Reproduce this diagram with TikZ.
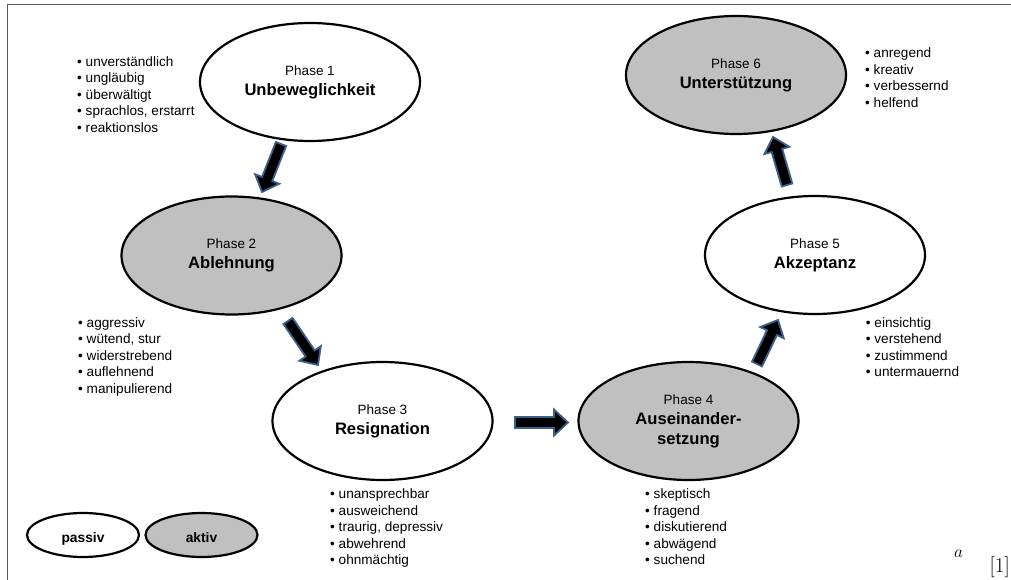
\documentclass[tikz,border=0pt]{standalone}
\usepackage{fontspec}
\newfontfamily\arial{Liberation Sans}
\usetikzlibrary{shapes.geometric,calc}

\definecolor{phasegray}{RGB}{192,192,192}
\definecolor{arrowblue}{RGB}{60,96,140}
\definecolor{framegray}{RGB}{90,90,90}

\tikzset{
  phase/.style={ellipse, draw=black, line width=2.2pt, minimum width=220pt,
    minimum height=118pt, inner sep=0pt, align=center,
    font=\arial\fontsize{16.6}{20}\selectfont\bfseries},
  passive/.style={phase, fill=white},
  active/.style={phase, fill=phasegray},
  legendbox/.style={ellipse, draw=black, line width=2.2pt, minimum width=112pt,
    minimum height=44pt, inner sep=0pt, text height=18pt, text depth=3pt,
    font=\arial\fontsize{13.8}{16}\selectfont\bfseries},
  traits/.style={anchor=north west, inner sep=0pt, align=left,
    font=\arial\fontsize{13.6}{16.6}\selectfont},
  blockarrow/.style={fill=black, draw=arrowblue, line width=1.8pt},
}

% small regular "Phase n" line above the bold phase name
\newcommand\phasenum[1]{{\mdseries\fontsize{13.5}{16}\selectfont Phase #1}}

% thick block arrow from #1 (tail centre) to #2 (tip)
\newcommand\blockarrowdraw[2]{%
  \coordinate (hb) at ($(#2)!14pt!(#1)$);
  \draw[blockarrow] ($(#1)!5.5pt!90:(#2)$) -- ($(hb)!5.5pt!90:(#2)$)
    -- ($(hb)!13pt!90:(#2)$) -- (#2) -- ($(hb)!13pt!-90:(#2)$)
    -- ($(hb)!5.5pt!-90:(#2)$) -- ($(#1)!5.5pt!-90:(#2)$) -- cycle;}

\begin{document}
\begin{tikzpicture}[x=1pt,y=-1pt]
\useasboundingbox (0,0) rectangle (1011,580);

% frame
\draw[framegray, line width=1pt] (7,580) -- (7,5) -- (1011,5);

% phases
\node[passive] (p1) at (310,82)    {\phasenum{1}\\Unbeweglichkeit};
\node[active]  (p2) at (231.5,255.5) {\phasenum{2}\\Ablehnung};
\node[passive] (p3) at (382.5,421) {\phasenum{3}\\Resignation};
\node[active]  (p4) at (688.5,421) {\phasenum{4}\\Auseinander-\\setzung};
\node[passive] (p5) at (815,255)   {\phasenum{5}\\Akzeptanz};
\node[active]  (p6) at (736,75)    {\phasenum{6}\\Unterstützung};

% block arrows between the phases
\coordinate (a1s) at (281,144);   \coordinate (a1e) at (262,192);
\coordinate (a2s) at (288,321);   \coordinate (a2e) at (318,365);
\coordinate (a3s) at (515,422.5); \coordinate (a3e) at (568,422.5);
\coordinate (a4s) at (757,364);   \coordinate (a4e) at (778,320);
\coordinate (a5s) at (787,185);   \coordinate (a5e) at (773,137);
\blockarrowdraw{a1s}{a1e}
\blockarrowdraw{a2s}{a2e}
\blockarrowdraw{a3s}{a3e}
\blockarrowdraw{a4s}{a4e}
\blockarrowdraw{a5s}{a5e}

% characteristics of each phase
\node[traits] (t1) at (77,56) {• unverständlich\\• ungläubig\\• überwältigt\\• sprachlos, erstarrt\\• reaktionslos};
\node[traits] (t2) at (78,317) {• aggressiv\\• wütend, stur\\• widerstrebend\\• auflehnend\\• manipulierend};
\node[traits] (t3) at (330,488.5) {• unansprechbar\\• ausweichend\\• traurig, depressiv\\• abwehrend\\• ohnmächtig};
\node[traits] (t4) at (645,488.5) {• skeptisch\\• fragend\\• diskutierend\\• abwägend\\• suchend};
\node[traits] (t5) at (865.7,317) {• einsichtig\\• verstehend\\• zustimmend\\• untermauernd};
\node[traits] (t6) at (865,47.5) {• anregend\\• kreativ\\• verbessernd\\• helfend};

% legend
\node[legendbox, fill=white] (lp) at (83,535) {passiv};
\node[legendbox, fill=phasegray] (la) at (201.5,535) {aktiv};

% reference mark
\node[anchor=base west, inner sep=0pt] (refa) at (954,557) {\fontsize{17}{20}\selectfont$a$};
\node[anchor=base east, inner sep=0pt] (refn) at (1010,572) {\fontsize{21}{25}\selectfont[1]};
\end{tikzpicture}
\end{document}
